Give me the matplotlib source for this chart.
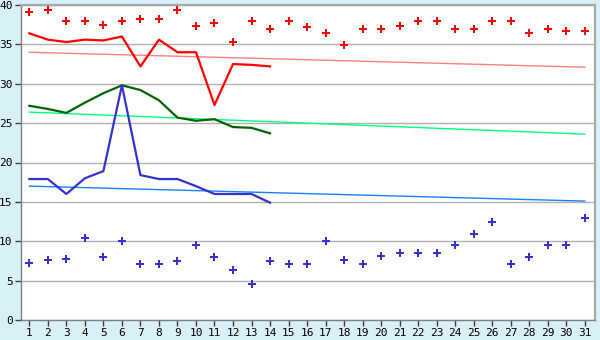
import matplotlib
matplotlib.use("Agg")
import matplotlib.pyplot as plt

days = list(range(1, 32))
line_days = list(range(1, 15))

max_points = [39.1, 39.4, 38.0, 38.0, 37.5, 38.0, 38.2, 38.2, 39.4, 37.3,
              37.7, 35.3, 38.0, 37.0, 38.0, 37.2, 36.4, 34.9, 37.0, 37.0,
              37.3, 38.0, 38.0, 37.0, 37.0, 38.0, 38.0, 36.5, 37.0, 36.7, 36.7]
min_points = [7.2, 7.6, 7.8, 10.4, 8.0, 10.0, 7.1, 7.1, 7.5, 9.5,
              8.0, 6.4, 4.6, 7.5, 7.1, 7.1, 10.0, 7.6, 7.1, 8.1,
              8.5, 8.5, 8.5, 9.5, 10.9, 12.4, 7.1, 8.0, 9.5, 9.5, 13.0]

red_line = [36.4, 35.6, 35.3, 35.6, 35.5, 36.0, 32.2, 35.6, 34.0, 34.0,
            27.3, 32.5, 32.4, 32.2]
green_line = [27.2, 26.8, 26.3, 27.6, 28.8, 29.8, 29.2, 27.9, 25.7, 25.3,
              25.5, 24.5, 24.4, 23.7]
blue_line = [17.9, 17.9, 16.0, 18.0, 18.9, 29.8, 18.4, 17.9, 17.9, 17.0,
             16.0, 16.0, 16.0, 14.9]

trend_days = [1, 31]
red_trend = [34.0, 32.1]
green_trend = [26.4, 23.6]
blue_trend = [17.0, 15.1]

bg = '#daf0f7'
fig = plt.figure(figsize=(6, 3.4), dpi=100, facecolor=bg)
ax = fig.add_axes([21/600, 20/340, 574/600, 315/340])
ax.set_facecolor('white')

ax.plot(trend_days, red_trend, color='#ff8080', lw=1.0, zorder=3)
ax.plot(trend_days, green_trend, color='#00ff80', lw=1.0, zorder=3)
ax.plot(trend_days, blue_trend, color='#1a80ff', lw=1.0, zorder=3)

ax.plot(line_days, red_line, color='#ff0000', lw=1.6, zorder=4)
ax.plot(line_days, green_line, color='#006400', lw=1.6, zorder=4)
ax.plot(line_days, blue_line, color='#3333cc', lw=1.6, zorder=4)

ax.plot(days, max_points, linestyle='none', marker='P', markersize=5.5,
        color='#ff0000', markeredgewidth=0, zorder=5)
ax.plot(days, min_points, linestyle='none', marker='P', markersize=5.5,
        color='#3333cc', markeredgewidth=0, zorder=5)

ax.set_xlim(0.55, 31.55)
ax.set_ylim(0, 40)
ax.set_yticks(range(0, 41, 5))
ax.set_xticks(days)
ax.yaxis.grid(True, color='#b0b0b0', lw=1.0)
ax.set_axisbelow(True)

for side in ['top', 'right']:
    ax.spines[side].set_color('#a8a8a8')
    ax.spines[side].set_linewidth(1.6)
for side in ['left', 'bottom']:
    ax.spines[side].set_color('#808080')
    ax.spines[side].set_linewidth(1.0)

ax.tick_params(axis='both', length=4, width=1, color='#404040',
               labelsize=8, pad=2, labelcolor='black')
for lab in ax.get_xticklabels() + ax.get_yticklabels():
    lab.set_family('DejaVu Sans Mono')

fig.savefig('out.png', dpi=100, facecolor=bg)
